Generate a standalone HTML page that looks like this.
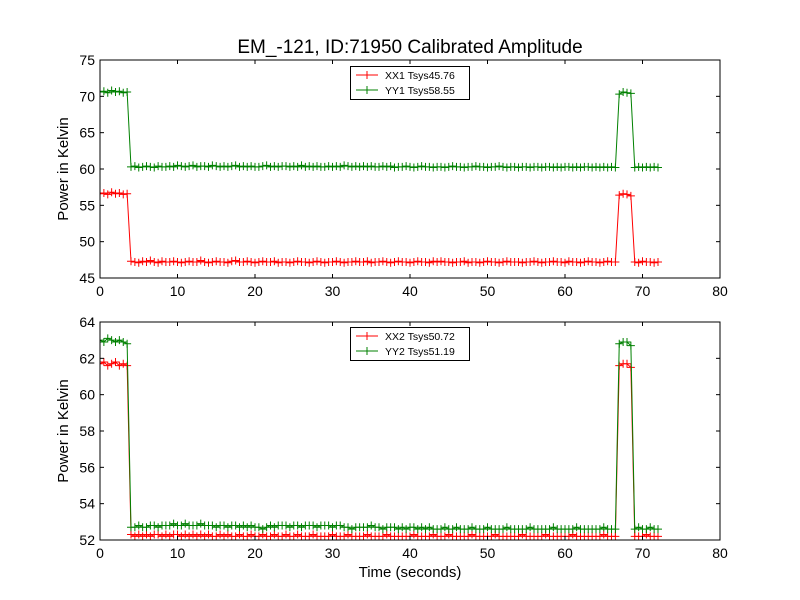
<!DOCTYPE html>
<html><head><meta charset="utf-8"><style>
body{margin:0;background:#fff;}
svg{display:block;font-family:"Liberation Sans",sans-serif;}
</style></head><body>
<svg id="chart" width="800" height="600">
<rect width="800" height="600" fill="#fff"/>
<text x="410" y="53" font-size="19" text-anchor="middle">EM_-121, ID:71950 Calibrated Amplitude</text>
<text transform="translate(68,169) rotate(-90)" font-size="15" text-anchor="middle">Power in Kelvin</text>
<text transform="translate(68,431) rotate(-90)" font-size="15" text-anchor="middle">Power in Kelvin</text>
<text x="410" y="577" font-size="15" text-anchor="middle">Time (seconds)</text>
<g id="top"></g>
<g id="bot"></g>
</svg>
<script>
const times=[0,0.5,1,1.5,2,2.5,3,3.5,4,4.5,5,5.5,6,6.5,7,7.5,8,8.5,9,9.5,10,10.5,11,11.5,12,12.5,13,13.5,14,14.5,15,15.5,16,16.5,17,17.5,18,18.5,19,19.5,20,20.5,21,21.5,22,22.5,23,23.5,24,24.5,25,25.5,26,26.5,27,27.5,28,28.5,29,29.5,30,30.5,31,31.5,32,32.5,33,33.5,34,34.5,35,35.5,36,36.5,37,37.5,38,38.5,39,39.5,40,40.5,41,41.5,42,42.5,43,43.5,44,44.5,45,45.5,46,46.5,47,47.5,48,48.5,49,49.5,50,50.5,51,51.5,52,52.5,53,53.5,54,54.5,55,55.5,56,56.5,57,57.5,58,58.5,59,59.5,60,60.5,61,61.5,62,62.5,63,63.5,64,64.5,65,65.5,66,66.5,67,67.5,68,68.5,69,69.5,70,70.5,71,71.5,72];
const xx1=[56.6,56.7,56.5,56.8,56.6,56.7,56.5,56.6,
47.3,47.2,47.1,47.3,47.2,47.4,47.2,47.1,47.3,47.2,
47.2,47.3,47.2,47.1,47.2,47.3,47.2,47.2,47.4,47.2,
47.1,47.2,47.3,47.2,47.2,47.1,47.3,47.4,47.2,47.2,
47.3,47.2,47.1,47.2,47.3,47.2,47.2,47.3,47.1,47.2,
47.2,47.1,47.2,47.3,47.2,47.2,47.1,47.2,47.3,47.2,
47.1,47.2,47.2,47.3,47.2,47.1,47.2,47.2,47.3,47.2,
47.2,47.3,47.1,47.2,47.2,47.3,47.2,47.1,47.2,47.3,
47.2,47.2,47.1,47.2,47.3,47.2,47.2,47.1,47.3,47.2,
47.3,47.2,47.2,47.1,47.2,47.2,47.3,47.1,47.2,47.2,
47.1,47.2,47.3,47.2,47.2,47.1,47.2,47.3,47.2,47.2,
47.2,47.1,47.2,47.2,47.3,47.2,47.1,47.2,47.2,47.3,
47.2,47.2,47.1,47.3,47.2,47.2,47.1,47.2,47.3,47.2,
47.2,47.1,47.2,47.3,47.2,47.2,
56.4,56.6,56.5,56.3,
47.2,47.1,47.3,47.2,47.2,47.1,47.2];
const yy1=[70.6,70.7,70.5,70.8,70.6,70.7,70.5,70.6,
60.3,60.4,60.2,60.3,60.4,60.3,60.2,60.4,60.3,60.3,
60.4,60.3,60.5,60.4,60.3,60.4,60.5,60.3,60.4,60.4,
60.3,60.5,60.4,60.3,60.4,60.3,60.4,60.5,60.3,60.4,
60.3,60.4,60.3,60.3,60.4,60.5,60.3,60.4,60.3,60.4,
60.4,60.3,60.4,60.3,60.5,60.3,60.4,60.3,60.4,60.3,
60.3,60.4,60.3,60.4,60.3,60.5,60.4,60.3,60.4,60.3,
60.4,60.3,60.4,60.3,60.3,60.4,60.3,60.4,60.2,60.3,
60.3,60.4,60.3,60.2,60.3,60.4,60.3,60.3,60.2,60.3,
60.3,60.2,60.3,60.4,60.3,60.3,60.2,60.3,60.3,60.4,
60.3,60.3,60.2,60.3,60.3,60.4,60.3,60.2,60.3,60.3,
60.2,60.3,60.3,60.2,60.3,60.3,60.2,60.3,60.3,60.2,
60.3,60.2,60.3,60.3,60.2,60.3,60.2,60.3,60.3,60.2,
60.3,60.2,60.3,60.2,60.3,60.2,
70.3,70.6,70.5,70.4,
60.2,60.3,60.2,60.3,60.2,60.3,60.2];
const xx2=[61.7,61.8,61.6,61.7,61.8,61.6,61.7,61.6,
52.3,52.2,52.3,52.2,52.3,52.2,52.3,52.3,52.2,52.3,
52.2,52.3,52.3,52.2,52.3,52.2,52.3,52.2,52.3,52.2,
52.3,52.2,52.2,52.3,52.2,52.3,52.2,52.2,52.3,52.2,
52.2,52.3,52.2,52.2,52.3,52.2,52.2,52.3,52.2,52.2,
52.3,52.2,52.2,52.3,52.2,52.2,52.2,52.3,52.2,52.2,
52.2,52.2,52.3,52.2,52.2,52.2,52.3,52.2,52.2,52.2,
52.2,52.3,52.2,52.2,52.2,52.2,52.3,52.2,52.2,52.2,
52.2,52.2,52.2,52.3,52.2,52.2,52.2,52.2,52.3,52.2,
52.2,52.2,52.3,52.2,52.2,52.2,52.2,52.2,52.3,52.2,
52.2,52.2,52.2,52.2,52.3,52.2,52.2,52.2,52.2,52.2,
52.2,52.3,52.2,52.2,52.2,52.2,52.2,52.3,52.2,52.2,
52.2,52.2,52.2,52.2,52.3,52.2,52.2,52.2,52.2,52.2,
52.2,52.2,52.3,52.2,52.2,52.2,
61.6,61.7,61.7,61.5,
52.2,52.2,52.2,52.3,52.2,52.2,52.2];
const yy2=[63.0,62.9,63.1,63.0,62.9,63.0,62.9,62.8,
52.7,52.7,52.8,52.7,52.7,52.8,52.8,52.7,52.8,52.8,
52.8,52.9,52.8,52.8,52.9,52.8,52.8,52.8,52.9,52.8,
52.8,52.8,52.7,52.8,52.8,52.7,52.8,52.8,52.7,52.8,
52.7,52.8,52.7,52.7,52.6,52.7,52.8,52.7,52.8,52.8,
52.8,52.7,52.8,52.8,52.7,52.8,52.8,52.8,52.7,52.8,
52.8,52.8,52.7,52.8,52.8,52.7,52.7,52.6,52.7,52.7,
52.7,52.7,52.8,52.7,52.7,52.6,52.7,52.7,52.7,52.6,
52.7,52.6,52.7,52.7,52.6,52.7,52.6,52.7,52.6,52.6,
52.6,52.7,52.6,52.6,52.7,52.6,52.6,52.6,52.7,52.6,
52.6,52.6,52.7,52.6,52.6,52.6,52.6,52.7,52.6,52.6,
52.6,52.6,52.6,52.7,52.6,52.6,52.6,52.6,52.6,52.7,
52.6,52.6,52.6,52.6,52.6,52.7,52.6,52.6,52.6,52.6,
52.6,52.6,52.7,52.6,52.6,52.6,
62.8,62.9,62.9,62.7,
52.6,52.7,52.6,52.6,52.7,52.6,52.6];
const xTicks=[0,10,20,30,40,50,60,70,80];
const topYTicks=[45,50,55,60,65,70,75];
const botYTicks=[52,54,56,58,60,62,64];
const topSeries=[{name:'XX1 Tsys45.76',vals:xx1,color:'#ff0000'},{name:'YY1 Tsys58.55',vals:yy1,color:'#008000'}];
const botSeries=[{name:'XX2 Tsys50.72',vals:xx2,color:'#ff0000'},{name:'YY2 Tsys51.19',vals:yy2,color:'#008000'}];

const NS='http://www.w3.org/2000/svg';
function mk(parent,tag,attrs){const e=document.createElementNS(NS,tag);for(const k in attrs)e.setAttribute(k,attrs[k]);parent.appendChild(e);return e;}
const L=100,R=720;
function xs(t){return L+(t-0)/(80-0)*(R-L);}
function panel(g,top,bot,ymin,ymax,yTicks,series,pfx,legY){
  const ys=v=>bot-(v-ymin)/(ymax-ymin)*(bot-top);
  const clip=mk(g,'clipPath',{id:'clip'+pfx});
  mk(clip,'rect',{x:L,y:top,width:R-L,height:bot-top});
  series.forEach((s,si)=>{
    const sg=mk(g,'g',{'clip-path':'url(#clip'+pfx+')'});
    
    
    const pts=times.map((t,i)=>xs(t).toFixed(2)+','+ys(s.vals[i]).toFixed(2)).join(' ');
    const ln=mk(sg,'polyline',{points:pts,fill:'none',stroke:s.color,'stroke-width':1});
    
    
    let d='';
    times.forEach((t,i)=>{const x=xs(t),y=ys(s.vals[i]);d+=`M${x-4},${y}h8M${x},${y-4}v8`;});
    const m=mk(sg,'path',{d:d,stroke:s.color,'stroke-width':1,fill:'none'});
    
    
  });
  const fr=mk(g,'rect',{x:L,y:top,width:R-L,height:bot-top,fill:'none',stroke:'#000','stroke-width':1});
  
  
  xTicks.forEach(t=>{
    const x=xs(t);
    mk(g,'line',{x1:x,y1:bot,x2:x,y2:bot-4,stroke:'#000'});
    mk(g,'line',{x1:x,y1:top,x2:x,y2:top+4,stroke:'#000'});
    const tx=mk(g,'text',{x:x,y:bot+18,'font-size':14,'text-anchor':'middle'});
    tx.textContent=t;
    
    
  });
  yTicks.forEach(v=>{
    const y=ys(v);
    mk(g,'line',{x1:L,y1:y,x2:L+4,y2:y,stroke:'#000'});
    mk(g,'line',{x1:R,y1:y,x2:R-4,y2:y,stroke:'#000'});
    const tx=mk(g,'text',{x:L-5,y:y+5,'font-size':14,'text-anchor':'end'});
    tx.textContent=v;
    
    
  });
  const lg=mk(g,'g',{});
  
  
  mk(lg,'rect',{x:350.5,y:legY+0.5,width:119,height:33,fill:'#fff',stroke:'#000'});
  series.forEach((s,i)=>{
    const y=legY+9+i*15;
    const e=mk(lg,'g',{});
    
    
    mk(e,'line',{x1:356,y1:y,x2:378,y2:y,stroke:s.color});
    mk(e,'path',{d:`M363,${y}h8M367,${y-4}v8`,stroke:s.color});
    const tx=mk(e,'text',{x:385,y:y+4,'font-size':10.5});
    tx.textContent=s.name;
  });
}
panel(document.getElementById('top'),60,278,45,75,topYTicks,topSeries,'top',66);
panel(document.getElementById('bot'),322,540,52,64,botYTicks,botSeries,'bottom',327);
</script>
</body></html>
